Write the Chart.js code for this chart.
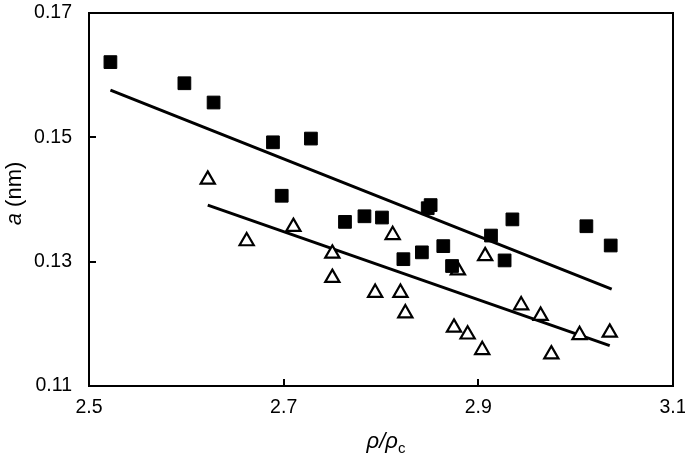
<!DOCTYPE html>
<html><head><meta charset="utf-8">
<script src="https://cdn.jsdelivr.net/npm/chart.js@4.4.0/dist/chart.umd.min.js"></script>
<style>html,body{margin:0;padding:0;background:#fff;} #wrap{width:685px;height:458px;position:relative;}</style>
</head><body><div id="wrap"><canvas id="c" width="685" height="458"></canvas></div>
<script>
const squaresX = [2.522, 2.598, 2.628, 2.689, 2.728, 2.698, 2.763, 2.783, 2.801, 2.848, 2.851, 2.823, 2.842, 2.864, 2.873, 2.913, 2.927, 2.935, 3.011, 3.036];
const squaresY = [0.1621, 0.1587, 0.1556, 0.1492, 0.1498, 0.1406, 0.1364, 0.1373, 0.1371, 0.1386, 0.1391, 0.1304, 0.1315, 0.1325, 0.1293, 0.1342, 0.1302, 0.1368, 0.1357, 0.1326];
const trianglesX = [2.622, 2.662, 2.710, 2.750, 2.750, 2.794, 2.812, 2.820, 2.825, 2.875, 2.879, 2.889, 2.904, 2.907, 2.944, 2.964, 2.975, 3.004, 3.035];
const trianglesY = [0.1432, 0.1333, 0.1356, 0.1313, 0.1274, 0.1250, 0.1343, 0.1250, 0.1217, 0.1194, 0.1286, 0.1183, 0.1158, 0.1309, 0.1230, 0.1213, 0.1151, 0.1182, 0.1186];
const fit1X = [2.522, 3.037];
const fit1Y = [0.1576, 0.1256];
const fit2X = [2.622, 3.035];
const fit2Y = [0.1391, 0.1165];
const xTicks = [2.5, 2.7, 2.9, 3.1];
const yTicks = [0.11, 0.13, 0.15, 0.17];

const pts = (xs, ys) => xs.map((x, i) => ({x: x, y: ys[i]}));
const FONT = '"Liberation Sans", Arial, sans-serif';

const framePlugin = {
  id: 'frame',
  afterDraw(chart) {
    const {ctx, chartArea: a, scales: {x, y}} = chart;
    ctx.save();
    ctx.strokeStyle = '#000';
    ctx.lineWidth = 2;
    ctx.strokeRect(a.left, a.top, a.right - a.left, a.bottom - a.top);
    ctx.beginPath();
    xTicks.forEach(v => { const px = Math.round(x.getPixelForValue(v)); ctx.moveTo(px, a.bottom); ctx.lineTo(px, a.bottom - 7); });
    yTicks.forEach(v => { const py = Math.round(y.getPixelForValue(v)); ctx.moveTo(a.left, py); ctx.lineTo(a.left + 7, py); });
    ctx.stroke();

    ctx.fillStyle = '#000';
    ctx.textBaseline = 'alphabetic';
    ctx.textAlign = 'left';
    const xParts = [
      {t: 'ρ', f: 'italic 22px ' + FONT, dy: 0},
      {t: '/', f: 'italic 22px ' + FONT, dy: 0},
      {t: 'ρ', f: 'italic 22px ' + FONT, dy: 0},
      {t: 'c', f: '15px ' + FONT, dy: 5}
    ];
    let w = 0;
    xParts.forEach(p => { ctx.font = p.f; p.w = ctx.measureText(p.t).width; w += p.w; });
    let cx = (a.left + a.right) / 2 + 5 - w / 2;
    xParts.forEach(p => { ctx.font = p.f; ctx.fillText(p.t, cx, 448 + p.dy); cx += p.w; });

    const yParts = [
      {t: 'a', f: 'italic 22px ' + FONT},
      {t: ' (nm)', f: '22px ' + FONT}
    ];
    w = 0;
    yParts.forEach(p => { ctx.font = p.f; p.w = ctx.measureText(p.t).width; w += p.w; });
    ctx.translate(21, (a.top + a.bottom) / 2 - 6);
    ctx.rotate(-Math.PI / 2);
    cx = -w / 2;
    yParts.forEach(p => { ctx.font = p.f; ctx.fillText(p.t, cx, 0); cx += p.w; });
    ctx.restore();
  }
};

new Chart(document.getElementById('c'), {
  type: 'scatter',
  data: {
    datasets: [
      {data: pts(squaresX, squaresY), pointStyle: 'rect', pointRadius: 9, backgroundColor: '#000', borderColor: '#000', borderWidth: 1},
      {data: pts(trianglesX, trianglesY), pointStyle: 'triangle', pointRadius: 8.2, backgroundColor: '#fff', borderColor: '#000', borderWidth: 2.2},
      {type: 'line', data: pts(fit1X, fit1Y), showLine: true, pointRadius: 0, borderColor: '#000', borderWidth: 3, fill: false},
      {type: 'line', data: pts(fit2X, fit2Y), showLine: true, pointRadius: 0, borderColor: '#000', borderWidth: 3, fill: false}
    ]
  },
  options: {
    responsive: false,
    devicePixelRatio: 1,
    animation: false,
    layout: {padding: {left: 0, right: 12, top: 13, bottom: 0}},
    plugins: {legend: {display: false}, tooltip: {enabled: false}},
    scales: {
      x: {
        type: 'linear', min: 2.5, max: 3.1,
        afterBuildTicks: s => { s.ticks = xTicks.map(v => ({value: v})); },
        afterFit: s => { s.height = 72; s.paddingLeft = 0; s.paddingRight = 0; },
        ticks: {font: {family: FONT, size: 19.5}, color: '#000', padding: 10, maxRotation: 0, autoSkip: false, callback: v => Number(v).toFixed(1)},
        grid: {display: false, drawTicks: false},
        border: {display: false}
      },
      y: {
        type: 'linear', min: 0.11, max: 0.17,
        afterBuildTicks: s => { s.ticks = yTicks.map(v => ({value: v})); },
        afterFit: s => { s.width = 89; s.paddingTop = 0; s.paddingBottom = 0; },
        ticks: {font: {family: FONT, size: 19.5}, color: '#000', padding: 17, autoSkip: false, callback: v => Number(v).toFixed(2)},
        grid: {display: false, drawTicks: false},
        border: {display: false}
      }
    }
  },
  plugins: [framePlugin]
});
</script>
</body></html>
